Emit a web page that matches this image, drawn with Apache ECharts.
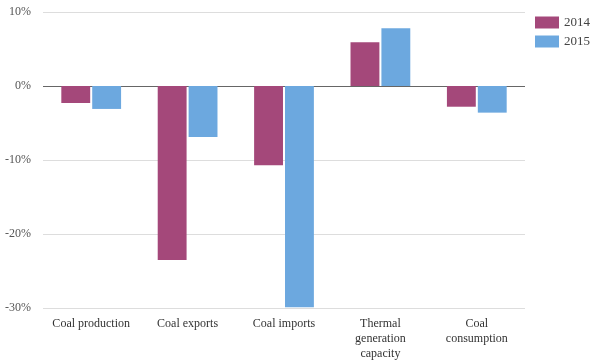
<!DOCTYPE html>
<html>
<head>
<meta charset="utf-8">
<script src="https://cdn.jsdelivr.net/npm/echarts@6/dist/echarts.min.js"></script>
<style>html,body{margin:0;padding:0;background:#fff}#c{width:600px;height:364px}</style>
</head>
<body>
<div id="c"></div>
<script>
const categories = ["Coal production", "Coal exports", "Coal imports", "Thermal\ngeneration\ncapacity", "Coal\nconsumption"];
const seriesNames = ["2014", "2015"];
const values2014 = [-2.3, -23.5, -10.7, 5.9, -2.8];
const values2015 = [-3.1, -6.9, -29.9, 7.8, -3.6];
const yTicks = [-30, -20, -10, 0, 10];

const font = '"Liberation Serif", "DejaVu Serif", serif';
const chart = echarts.init(document.getElementById('c'));
chart.setOption({
  animation: false,
  textStyle: { fontFamily: font },
  grid: { left: 43, right: 75, top: 12, bottom: 56 },
  legend: {
    orient: 'vertical', right: 5, top: 11, itemWidth: 24, itemHeight: 12, itemGap: 6,
    icon: 'rect',
    textStyle: { fontFamily: font, fontSize: 13, color: '#444' },
    data: seriesNames
  },
  xAxis: {
    type: 'category', data: categories,
    axisLine: { show: false }, axisTick: { show: false },
    axisLabel: { fontFamily: font, fontSize: 12, color: '#333', margin: 8, lineHeight: 15, interval: 0 }
  },
  yAxis: {
    type: 'value', min: yTicks[0], max: yTicks[yTicks.length - 1], interval: 10,
    axisLine: { show: false }, axisTick: { show: false },
    axisLabel: { fontFamily: font, fontSize: 12, color: '#555', margin: 12, formatter: v => v + '%' },
    splitLine: { lineStyle: { color: yTicks.map(t => t === 0 ? '#666' : '#ddd'), width: 1 } }
  },
  series: [
    { name: seriesNames[0], type: 'bar', data: values2014, itemStyle: { color: '#A4487A' }, barGap: '7%', barCategoryGap: '38%' },
    { name: seriesNames[1], type: 'bar', data: values2015, itemStyle: { color: '#6CA8DF' } }
  ]
});
</script>
</body>
</html>
